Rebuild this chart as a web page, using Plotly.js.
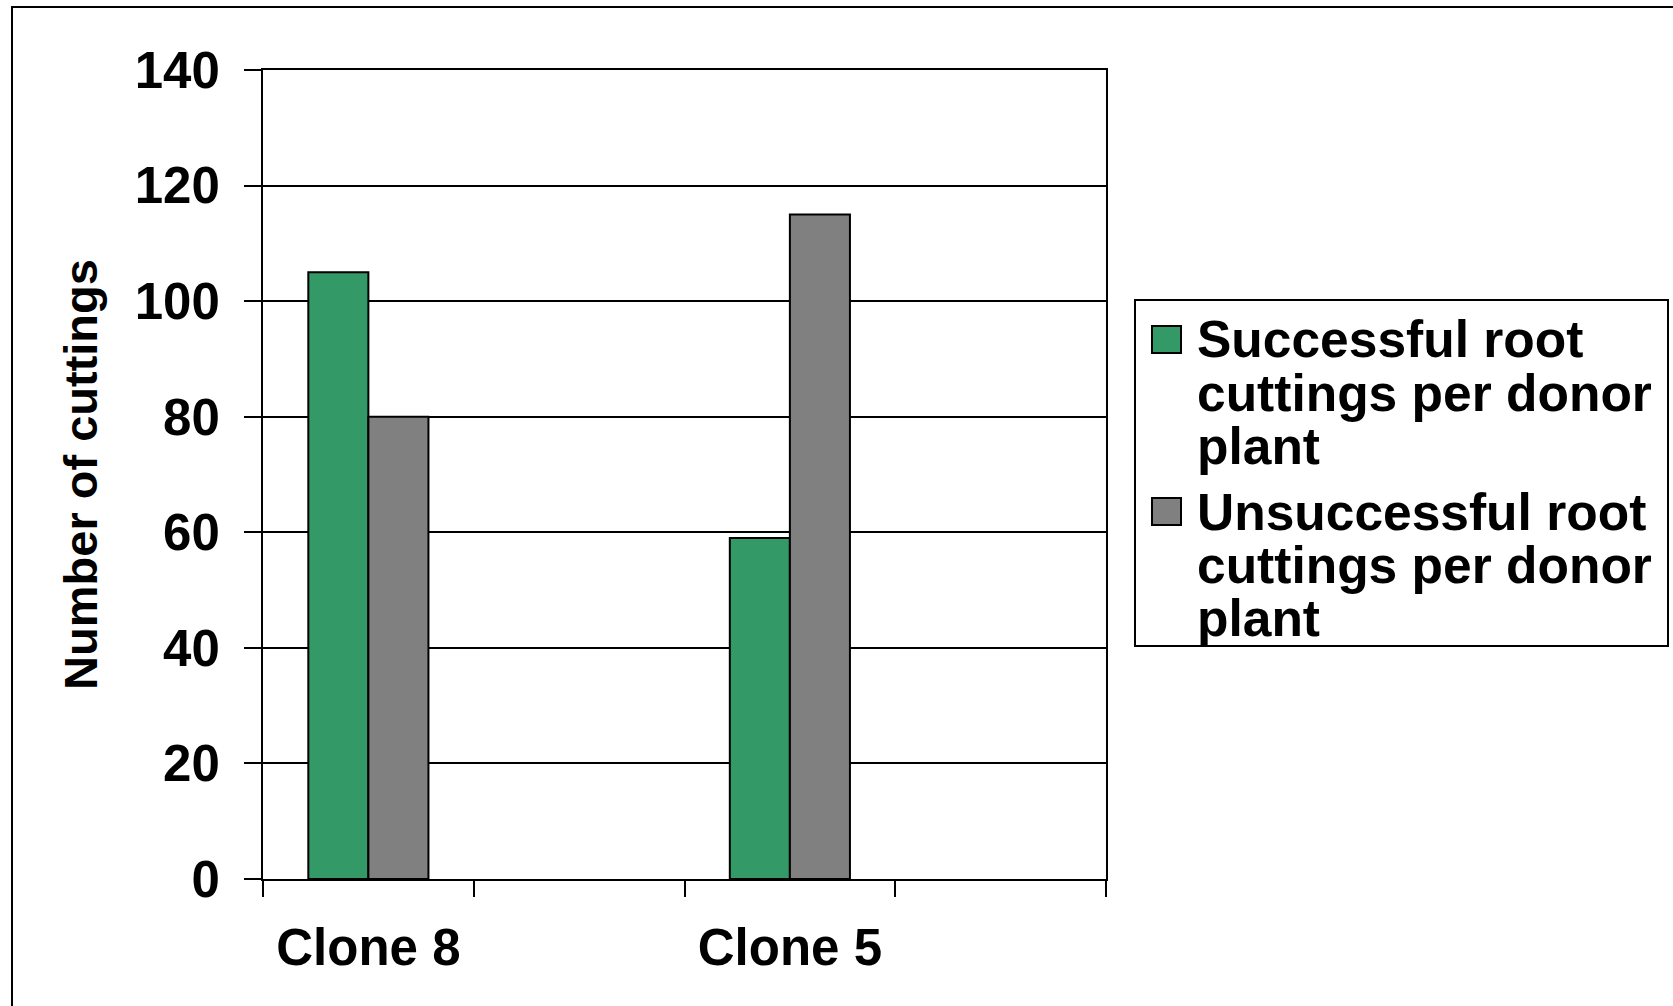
<!DOCTYPE html>
<html>
<head>
<meta charset="utf-8">
<script src="https://cdn.plot.ly/plotly-3.0.1.min.js"></script>
<style>
  html, body { margin: 0; padding: 0; background: #ffffff; }
  #chart { width: 1673px; height: 1006px; }
</style>
</head>
<body>
<div id="chart"></div>
<script>
// ---- data ----
var categories = ["Clone 8", " ", "Clone 5", "  "];
var successful = [105, null, 59, null];
var unsuccessful = [80, null, 115, null];
var seriesNames = [
  "Successful root cuttings per donor plant",
  "Unsuccessful root cuttings per donor plant"
];
var legendLines = [
  ["Successful root", "cuttings per donor", "plant"],
  ["Unsuccessful root", "cuttings per donor", "plant"]
];
var yTitle = "Number of cuttings";
var colors = ["#339966", "#808080"];

// ---- layout geometry (pixels) ----
var W = 1673, Hh = 1006;
var L = 263, R = 1106, T = 70, B = 879;
var pw = R - L, ph = B - T;
function px(p) { return (p - L) / pw; }
function py(p) { return (B - p) / ph; }

var FONT = "Liberation Sans, Arial, Helvetica, sans-serif";

var traces = [
  {
    type: "bar", x: categories, y: successful, name: seriesNames[0],
    marker: { color: colors[0], line: { color: "#000000", width: 2 } },
    showlegend: false, hoverinfo: "x+y"
  },
  {
    type: "bar", x: categories, y: unsuccessful, name: seriesNames[1],
    marker: { color: colors[1], line: { color: "#000000", width: 2 } },
    showlegend: false, hoverinfo: "x+y"
  }
];

// manual legend (box, swatches, text)
var shapes = [];
var annotations = [];
// outer frame (only top/left visible in the reference)
shapes.push({
  type: "rect", xref: "paper", yref: "paper",
  x0: px(12), x1: px(W + 50), y0: py(7), y1: py(Hh + 50),
  line: { color: "#000000", width: 2 }, fillcolor: "rgba(0,0,0,0)", layer: "below"
});
// legend box
shapes.push({
  type: "rect", xref: "paper", yref: "paper",
  x0: px(1135), x1: px(1668), y0: py(300), y1: py(646),
  line: { color: "#000000", width: 2 }, fillcolor: "#ffffff"
});
var swatchTops = [326, 498];
var lineCenters = [[339, 393, 446], [512, 565, 618]];
for (var i = 0; i < 2; i++) {
  shapes.push({
    type: "rect", xref: "paper", yref: "paper",
    x0: px(1152), x1: px(1181), y0: py(swatchTops[i]), y1: py(swatchTops[i] + 27),
    line: { color: "#000000", width: 2 }, fillcolor: colors[i]
  });
  for (var j = 0; j < legendLines[i].length; j++) {
    annotations.push({
      xref: "paper", yref: "paper", x: px(1195), y: py(lineCenters[i][j]),
      xanchor: "left", yanchor: "middle", showarrow: false,
      text: legendLines[i][j],
      font: { family: FONT, size: 51.5, color: "#000000", weight: 700 }
    });
  }
}

var layout = {
  width: W, height: Hh,
  margin: { l: L, r: W - R, t: T, b: Hh - B, pad: 0 },
  paper_bgcolor: "#ffffff", plot_bgcolor: "#ffffff",
  barmode: "group", bargap: 0.43, bargroupgap: 0,
  showlegend: false,
  font: { family: FONT, color: "#000000" },
  xaxis: {
    type: "category", categoryorder: "array", categoryarray: categories,
    range: [-0.5, 3.5],
    tickson: "boundaries", ticks: "outside", ticklen: 16, tickwidth: 2, tickcolor: "#000000",
    showline: true, linecolor: "#000000", linewidth: 2, mirror: true,
    showgrid: false, zeroline: false,
    tickfont: { family: FONT, size: 51, color: "#000000", weight: 700 },
    ticklabelstandoff: 23,
    fixedrange: true
  },
  yaxis: {
    range: [0, 140], dtick: 20, tick0: 0,
    ticks: "outside", ticklen: 17, tickwidth: 2, tickcolor: "#000000",
    showline: true, linecolor: "#000000", linewidth: 2, mirror: true,
    showgrid: true, gridcolor: "#000000", gridwidth: 2,
    zeroline: false,
    tickfont: { family: FONT, size: 51, color: "#000000", weight: 700 },
    ticklabelstandoff: 14,
    title: { text: yTitle, font: { family: FONT, size: 47, color: "#000000", weight: 700 }, standoff: 22 },
    automargin: false,
    fixedrange: true
  },
  shapes: shapes,
  annotations: annotations
};

Plotly.newPlot("chart", traces, layout, { displayModeBar: false, staticPlot: true });
</script>
</body>
</html>
